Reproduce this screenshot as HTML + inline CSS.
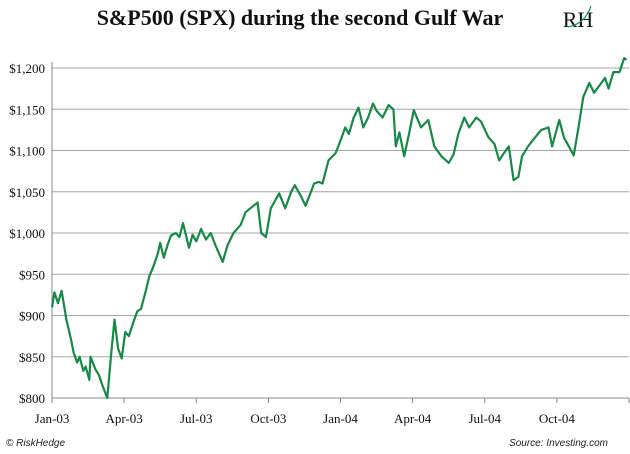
<!DOCTYPE html>
<html><head><meta charset="utf-8"><style>
body{margin:0;background:#fff;width:630px;height:454px;overflow:hidden}
svg{display:block}
</style></head><body>
<svg id="chart" width="630" height="454" xmlns="http://www.w3.org/2000/svg">
<text x="300" y="25" text-anchor="middle" font-family="Liberation Serif, serif" font-weight="bold" font-size="22" fill="#111">S&amp;P500 (SPX) during the second Gulf War</text>
<g>
<text x="578" y="27" text-anchor="middle" font-family="Liberation Serif, serif" font-size="22" fill="#111">RH</text>
<path d="M568 27 Q585 24 591 6" stroke="#1a9a55" stroke-width="1.2" fill="none"/>
</g>
<g id="grid"></g><g id="axes"></g><g id="series"></g>
<text x="6" y="446" font-family="Liberation Sans, sans-serif" font-style="italic" font-size="10" fill="#222">© RiskHedge</text>
<text x="608" y="446" text-anchor="end" font-family="Liberation Sans, sans-serif" font-style="italic" font-size="10" fill="#222">Source: Investing.com</text>
</svg>
<script>
const months=[0,0.1,0.25,0.4,0.6,0.8,0.9,1.05,1.15,1.3,1.4,1.55,1.6,1.8,1.95,2.1,2.3,2.45,2.6,2.75,2.9,3.05,3.2,3.4,3.55,3.7,3.9,4.05,4.2,4.4,4.5,4.65,4.8,4.95,5.15,5.3,5.45,5.7,5.85,6.0,6.2,6.4,6.6,6.8,7.1,7.3,7.55,7.85,8.05,8.25,8.55,8.7,8.9,9.1,9.45,9.7,9.95,10.1,10.35,10.55,10.9,11.1,11.25,11.5,11.8,12.0,12.2,12.35,12.55,12.75,12.95,13.15,13.35,13.5,13.75,14.0,14.2,14.3,14.45,14.65,14.85,15.05,15.35,15.65,15.9,16.2,16.5,16.7,16.9,17.15,17.35,17.65,17.85,18.15,18.4,18.6,18.8,19.0,19.2,19.4,19.55,19.8,20.1,20.35,20.65,20.8,21.1,21.3,21.5,21.7,21.9,22.1,22.35,22.55,22.8,23.0,23.15,23.35,23.6,23.8,23.9];
const prices=[910,928,915,930,895,870,855,843,850,833,838,822,850,835,828,815,800,850,895,860,848,880,875,893,905,908,930,948,958,975,988,970,985,997,1000,995,1012,982,998,990,1005,992,1000,985,965,985,1000,1010,1025,1030,1037,1000,995,1030,1048,1030,1050,1058,1045,1033,1060,1062,1060,1088,1097,1112,1128,1120,1140,1152,1128,1140,1157,1148,1140,1155,1150,1105,1122,1093,1120,1149,1128,1137,1105,1093,1085,1095,1120,1140,1128,1140,1135,1116,1108,1088,1097,1105,1064,1068,1093,1105,1116,1125,1128,1105,1137,1115,1105,1094,1128,1165,1182,1170,1180,1188,1175,1195,1195,1212,1210];
const yTicks=[800,850,900,950,1000,1050,1100,1150,1200];
const yTickLabels=["$800","$850","$900","$950","$1,000","$1,050","$1,100","$1,150","$1,200"];
const xTickMonths=[0,3,6,9,12,15,18,21,24];
const xTickLabels=["Jan-03","Apr-03","Jul-03","Oct-03","Jan-04","Apr-04","Jul-04","Oct-04",""];
const NS="http://www.w3.org/2000/svg";
const X=m=>52+m*(577/24);
const Y=v=>398-(v-800)*(330/400);
function mk(t,a,p){const e=document.createElementNS(NS,t);for(const k in a)e.setAttribute(k,a[k]);p.appendChild(e);return e;}
const grid=document.getElementById('grid'),axes=document.getElementById('axes'),series=document.getElementById('series');
yTicks.forEach((v,i)=>{
  if(i>0){const l=mk('line',{x1:52,x2:629,y1:Y(v),y2:Y(v),stroke:'#a6a6a6','stroke-width':1},grid);
  
  }
  const t=mk('text',{x:45,y:Y(v)+5,'text-anchor':'end','font-family':'Liberation Serif, serif','font-size':13,fill:'#111'},axes);
  t.textContent=yTickLabels[i];
  
  
});
const ax=mk('line',{x1:52,x2:629,y1:398,y2:398,stroke:'#888','stroke-width':1},axes);


const ay=mk('line',{x1:52,x2:52,y1:62,y2:398,stroke:'#888','stroke-width':1},axes);


xTickMonths.forEach((m,i)=>{
  const tk=mk('line',{x1:X(m),x2:X(m),y1:398,y2:403,stroke:'#888'},axes);
  
  
  const t=mk('text',{x:X(m),y:423,'text-anchor':'middle','font-family':'Liberation Serif, serif','font-size':13,fill:'#111'},axes);
  t.textContent=xTickLabels[i];
  
  
});
const d=months.map((m,i)=>(i?'L':'M')+X(m).toFixed(1)+' '+Y(prices[i]).toFixed(1)).join(' ');
const p=mk('path',{d:d,fill:'none',stroke:'#168a45','stroke-width':2.2,'stroke-linejoin':'round'},series);


</script>
</body></html>
